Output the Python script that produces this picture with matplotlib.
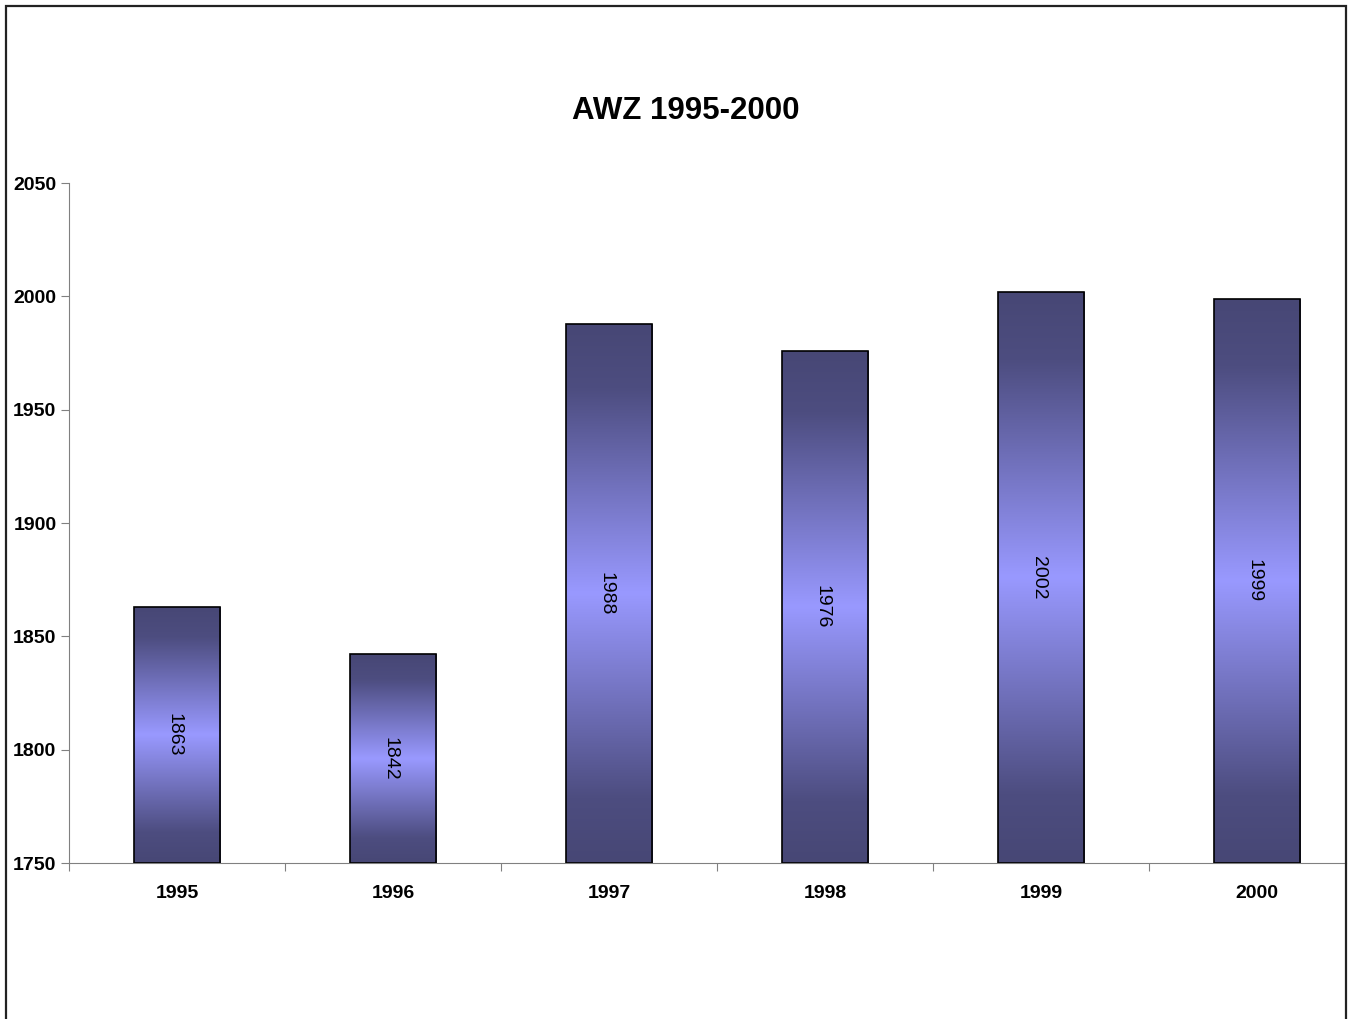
import matplotlib.pyplot as plt
import numpy as np
from matplotlib.colors import LinearSegmentedColormap
from matplotlib.patches import Rectangle

years = ["1995", "1996", "1997", "1998", "1999", "2000"]
values = [1863, 1842, 1988, 1976, 2002, 1999]
y_ticks = [1750, 1800, 1850, 1900, 1950, 2000, 2050]

plt.rcParams['font.family'] = ['Liberation Sans', 'DejaVu Sans']

W, H = 1355, 1019
fig = plt.figure(figsize=(W / 100, H / 100), dpi=100)
ax = fig.add_axes([69 / W, (H - 863) / H, (1365 - 69) / W, (863 - 183) / H])

# frame round the chart area (bottom edge runs off the image)
fig.patches.append(Rectangle((6 / W, -0.05), (1346 - 6) / W, (1019 - 6) / H + 0.05,
                             transform=fig.transFigure, fill=False,
                             edgecolor='#222222', linewidth=1.6))

cmap = LinearSegmentedColormap.from_list(
    "bar", [(0, '#474775'), (0.12, '#4d4d80'), (0.5, '#9999ff'),
            (0.88, '#4d4d80'), (1, '#474775')])
grad = np.linspace(0, 1, 256).reshape(-1, 1)

x = np.arange(len(years))
bars = ax.bar(x, [v - 1750 for v in values], bottom=1750, width=0.4,
              facecolor='none', edgecolor='black', linewidth=1.2, zorder=3)
for b, v in zip(bars, values):
    x0, w = b.get_x(), b.get_width()
    im = ax.imshow(grad, cmap=cmap, aspect='auto', extent=[x0, x0 + w, 1750, v],
                   origin='lower', zorder=2)
    im.set_clip_path(b)
    ax.text(x0 + w / 2 - 0.012, (1750 + v) / 2, str(v), rotation=270, ha='center',
            va='center', fontsize=14, zorder=4)

ax.set_xlim(-0.5, 5.5)
ax.set_ylim(1750, 2050)
ax.set_yticks(y_ticks)
ax.set_yticklabels([str(t) for t in y_ticks], fontsize=14, fontweight='bold')

ax.set_xticks(np.arange(-0.5, 6, 1))
ax.set_xticklabels([])
ax.set_xticks(x, minor=True)
ax.set_xticklabels(years, minor=True, fontsize=14, fontweight='bold')
ax.tick_params(axis='x', which='minor', length=0, pad=16)
ax.tick_params(axis='x', which='major', length=6, color='#808080')
ax.tick_params(axis='y', length=6, color='#808080', pad=3)

for s in ['top', 'right']:
    ax.spines[s].set_visible(False)
for s in ['left', 'bottom']:
    ax.spines[s].set_color('#808080')
ax.spines['bottom'].set_bounds(-0.5, 5.41)

fig.text(686 / W, 1 - 111 / H, "AWZ 1995-2000", ha='center', va='center',
         fontsize=22.5, fontweight='bold')

fig.savefig("out.png", dpi=100)
